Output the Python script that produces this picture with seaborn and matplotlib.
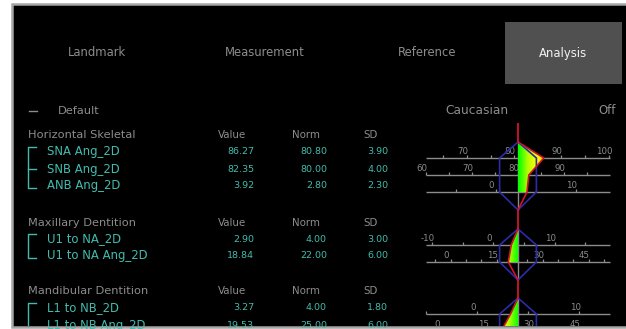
import numpy as np
import matplotlib
matplotlib.use("Agg")
import matplotlib.pyplot as plt
from matplotlib.patches import Rectangle, Polygon
from matplotlib.colors import LinearSegmentedColormap
import seaborn as sns

# ---------------- data ----------------
tabs = ["Landmark", "Measurement", "Reference", "Analysis"]
active_tab = "Analysis"
section = "Default"
population = "Caucasian"
toggle = "Off"
groups = ["Horizontal Skeletal", "Maxillary Dentition", "Mandibular Dentition"]
columns = ["Value", "Norm", "SD"]
names = ["SNA Ang_2D", "SNB Ang_2D", "ANB Ang_2D",
         "U1 to NA_2D", "U1 to NA Ang_2D",
         "L1 to NB_2D", "L1 to NB Ang_2D"]
group_index = [0, 0, 0, 1, 1, 2, 2]
values = [86.27, 82.35, 3.92, 2.90, 18.84, 3.27, 19.53]
norms = [80.80, 80.00, 2.80, 4.00, 22.00, 4.00, 25.00]
sds = [3.90, 4.00, 2.30, 3.00, 6.00, 1.80, 6.00]
label_steps = [10, 10, 10, 10, 15, 10, 15]
minor_step = 5
sd_range = 5

# ---------------- style ----------------
TEAL = "#42bcae"
GRAY = "#8c8c8c"
RED = "#d0142c"
BLUE = "#2c2ca8"
FONT = "DejaVu Sans"
plt.rcParams["font.family"] = [FONT]

W, H = 626, 329
fig = plt.figure(figsize=(W / 100, H / 100), dpi=100, facecolor="white")
bg = fig.add_axes([0, 0, 1, 1])
bg.set_xlim(0, W)
bg.set_ylim(H, 0)
bg.axis("off")

# panel
panel = Rectangle((12, 4), 640, 323, facecolor="black", edgecolor="#a6a6a6", lw=1.8)
bg.add_patch(panel)
clip_box = Rectangle((12, 4), 640, 322, transform=bg.transData, facecolor="none",
                     edgecolor="none")
bg.add_patch(clip_box)


def put(x, y, s, **kw):
    t = bg.text(x, y, s, **kw)
    t.set_clip_path(clip_box)
    return t


# tabs
tab_x = [97, 265, 427, 563]
bg.add_patch(Rectangle((505, 22), 117, 62, facecolor="#505050", edgecolor="none"))
for t, x in zip(tabs, tab_x):
    put(x, 53, t, ha="center", va="center", fontsize=8.4,
        color="#f2f2f2" if t == active_tab else GRAY)

# default row
bg.plot([29, 37], [111, 111], color=GRAY, lw=1)
put(58, 111, section, ha="left", va="center", fontsize=8.2, color=GRAY)
put(477, 111, population, ha="center", va="center", fontsize=8.8, color=GRAY)
put(607, 111, toggle, ha="center", va="center", fontsize=8.4, color=GRAY)

# table layout
header_y = [135.5, 222.5, 291.5]
row_gap = 17
first_off = 16.5
col_hdr_x = [218, 292, 363]
col_val_x = [254, 327, 388]

row_y = []
counters = [0, 0, 0]
for gi in group_index:
    row_y.append(header_y[gi] + first_off + row_gap * counters[gi])
    counters[gi] += 1

for g, hy in enumerate(header_y):
    put(28, hy, groups[g], ha="left", va="center", fontsize=8.2, color=GRAY)
    for c, cx in zip(columns, col_hdr_x):
        put(cx, hy, c, ha="left", va="center", fontsize=7.4, color=GRAY)
    ys = [row_y[i] for i in range(len(names)) if group_index[i] == g]
    top, bot = ys[0] - 5, ys[-1] + 2
    ln, = bg.plot([36, 28, 28, 36], [top, top, bot, bot], color=TEAL, lw=1)
    ln.set_clip_path(clip_box)
    for y in ys[1:-1]:
        bg.plot([28, 36], [y, y], color=TEAL, lw=1)

for i, n in enumerate(names):
    y = row_y[i]
    put(47, y, n, ha="left", va="center", fontsize=8.4, color=TEAL)
    for v, cx in zip([values[i], norms[i], sds[i]], col_val_x):
        put(cx, y, f"{v:.2f}", ha="right", va="center", fontsize=6.8, color=TEAL)

# ---------------- chart ----------------
px = 18.4
cx = 518
ax = fig.add_axes([400 / W, (H - 326) / H, 226 / W, 322 / H])
ax.axis("off")
ax.patch.set_visible(False)

line_y = [y + 6 for y in row_y]

for i in range(len(names)):
    ly = line_y[i]
    ax.hlines(ly, -sd_range, sd_range, color=GRAY, lw=1, zorder=1)
    lo, hi = norms[i] - sd_range * sds[i], norms[i] + sd_range * sds[i]
    t = np.ceil(lo / minor_step - 1e-9) * minor_step
    while t < hi - 1e-9:
        z = (t - norms[i]) / sds[i]
        ax.vlines(z, ly - 2.5, ly, color=GRAY, lw=0.9, zorder=1)
        if abs(t / label_steps[i] - round(t / label_steps[i])) < 1e-9:
            lab = ax.text(z - 4 / px, ly - 2, f"{int(t)}", ha="center", va="bottom",
                          fontsize=6.2, color=GRAY, zorder=1)
            lab.set_clip_on(True)
        t += minor_step

cmap = LinearSegmentedColormap.from_list(
    "gy", [(0.0, "#00ff00"), (0.35, "#b4ff00"), (0.7, "#ffff00"), (1.0, "#ffc800")])
zz = np.linspace(-1.8, 1.8, 500)
img = cmap(np.clip(np.abs(zz) / 1.45, 0, 1))[None, :, :]

prev_bottom = 123
for g in range(len(groups)):
    idx = [i for i in range(len(names)) if group_index[i] == g]
    ys = [line_y[i] for i in idx]
    zs = [(values[i] - norms[i]) / sds[i] for i in idx]
    top, bot = ys[0] - 16, ys[-1] + 18
    ax.vlines(0, prev_bottom, top, color=RED, lw=1.3, zorder=4)
    prev_bottom = bot
    ax.vlines(0, top, bot, color=GRAY, lw=1, zorder=1.5)
    poly = Polygon([(0, top)] + list(zip(zs, ys)) + [(0, ys[-1])], closed=True,
                   facecolor="none", edgecolor="none", transform=ax.transData)
    ax.add_patch(poly)
    im = ax.imshow(img, extent=[-1.8, 1.8, 327, 4], aspect="auto",
                   interpolation="bilinear", zorder=2)
    im.set_clip_path(poly)
    hexv = [(0, top), (-1, ys[0]), (-1, ys[-1]), (0, bot), (1, ys[-1]), (1, ys[0])]
    ax.add_patch(Polygon(hexv, closed=True, fill=False, edgecolor=BLUE, lw=1.2, zorder=3))
    px_path = [0] + zs + [0]
    py_path = [top] + ys + [bot]
    sns.lineplot(x=px_path, y=py_path, sort=False, estimator=None, color=RED,
                 lw=1.2, ax=ax, zorder=4)

ax.set_xlim((400 - cx) / px, (626 - cx) / px)
ax.set_ylim(326, 4)
ax.axis("off")

fig.savefig("out.png", dpi=100, facecolor="white")
